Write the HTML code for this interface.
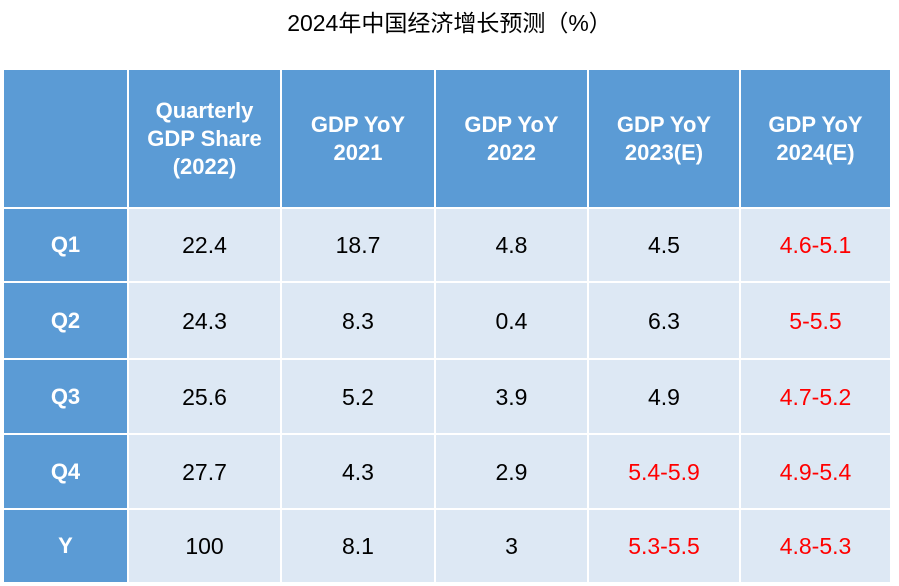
<!DOCTYPE html>
<html><head><meta charset="utf-8"><style>
body{margin:0;width:899px;height:586px;background:#fff;position:relative;overflow:hidden;font-family:"Liberation Sans","Noto Sans CJK SC",sans-serif}
.t{position:absolute;left:0;width:899px;top:4px;text-align:center;font-size:23px;color:#000}
.c{position:absolute;display:flex;align-items:center;justify-content:center;text-align:center;box-sizing:border-box;font-size:23px;line-height:28px}
.h{background:#5b9bd5;color:#fff;font-weight:bold;font-size:22px}
.d{background:#dde8f4;color:#000}
.r{color:#ff0000}
</style></head><body>
<div class="t">2024年中国经济增长预测（%）</div>
<div id="tbl"></div>
<script>
const cols=["","Quarterly<br>GDP Share<br>(2022)","GDP YoY<br>2021","GDP YoY<br>2022","GDP YoY<br>2023(E)","GDP YoY<br>2024(E)"];
const rowLabels=["Q1","Q2","Q3","Q4","Y"];
const share=["22.4","24.3","25.6","27.7","100"];
const yoy2021=["18.7","8.3","5.2","4.3","8.1"];
const yoy2022=["4.8","0.4","3.9","2.9","3"];
const yoy2023=["4.5","6.3","4.9","5.4-5.9","5.3-5.5"];
const yoy2024=["4.6-5.1","5-5.5","4.7-5.2","4.9-5.4","4.8-5.3"];
const red2023=[false,false,false,true,true];
const xs=[4,128,281,435,588,740,891];
const ys=[70,208,282,359,434,509,582];
const tbl=document.getElementById('tbl');
function cell(ci,ri,html,cls,name){
  const d=document.createElement('div');
  d.className='c '+cls;
  
  
  const x0=xs[ci]+(ci>0?1:0), x1=xs[ci+1]-1;
  const y0=ys[ri]+(ri>0?1:0), y1=ys[ri+1]-(ri===ys.length-2?0:1);
  d.style.left=x0+'px';d.style.top=y0+'px';d.style.width=(x1-x0)+'px';d.style.height=(y1-y0)+'px';
  d.innerHTML=html;tbl.appendChild(d);
}
cols.forEach((c,i)=>cell(i,0,c,'h','header-cell'));
rowLabels.forEach((l,r)=>{
  cell(0,r+1,l,'h','row-label');
  cell(1,r+1,share[r],'d','share-cell');
  cell(2,r+1,yoy2021[r],'d','yoy-2021-cell');
  cell(3,r+1,yoy2022[r],'d','yoy-2022-cell');
  cell(4,r+1,yoy2023[r],'d'+(red2023[r]?' r':''),'yoy-2023-cell');
  cell(5,r+1,yoy2024[r],'d r','yoy-2024-cell');
});
</script>
</body></html>
